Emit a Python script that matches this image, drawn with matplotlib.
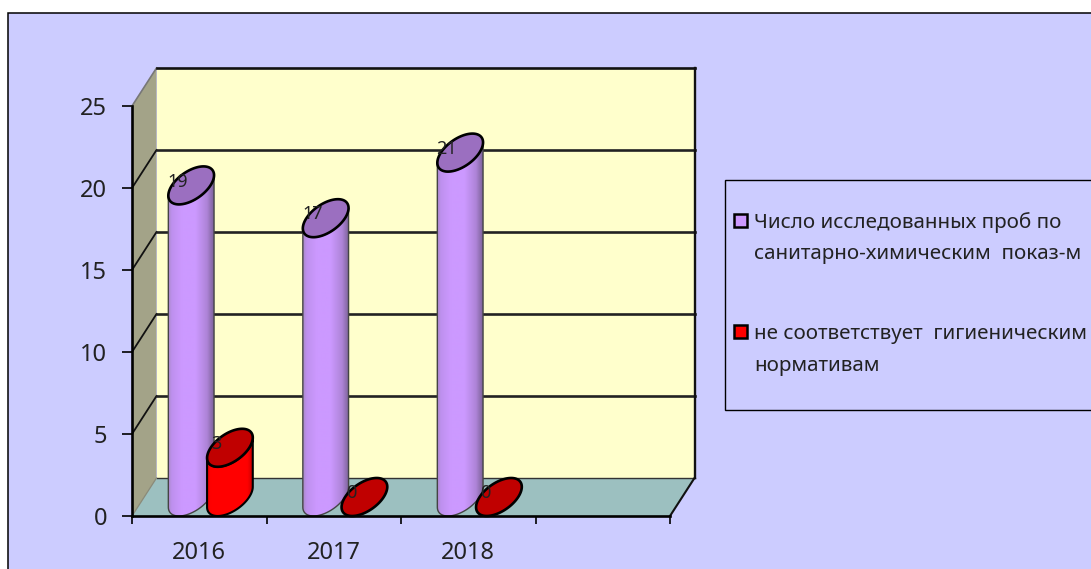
import numpy as np
import matplotlib
matplotlib.use("Agg")
import matplotlib.pyplot as plt
from matplotlib.patches import Polygon, Rectangle, Patch
from matplotlib.legend_handler import HandlerPatch
from matplotlib.colors import to_rgb

categories = ["2016", "2017", "2018"]
samples_total = [19, 17, 21]
samples_failed = [3, 0, 0]
series_names = ["Число исследованных проб по\nсанитарно-химическим  показ-м",
                "не соответствует  гигиеническим\nнормативам"]
y_ticks = [0, 5, 10, 15, 20, 25]

W, H = 1091, 569
plt.rcParams["font.family"] = ["Noto Sans", "DejaVu Sans"]
TXT = "#222222"
fig = plt.figure(figsize=(W / 100, H / 100), dpi=100, facecolor="white")

# panel behind the chart (runs off the right and bottom of the picture)
fig.add_artist(Rectangle((8.0, -40), W + 80, H + 40 - 13.0, transform=None,
                         facecolor="#CCCCFF", edgecolor="black", linewidth=1.1, zorder=-5))

# front plane of the 3-D box
L, R, B, T = 132, 670, 516, 106
ax = fig.add_axes([L / W, 1 - B / H, (R - L) / W, (B - T) / H])
ax.patch.set_visible(False)
ax.set_xlim(0, 4)
ax.set_ylim(0, 25)
for s in ("top", "right"):
    ax.spines[s].set_visible(False)
for s in ("left", "bottom"):
    ax.spines[s].set_linewidth(1.9)
    ax.spines[s].set_zorder(20)

px_x = (R - L) / 4
px_y = (B - T) / 25
DX = 24.5 / px_x   # depth shift in data units
DY = 38 / px_y


def nc(x, y, z=1.0):
    return (x + z * DX, y + z * DY)


# walls and floor
ax.add_patch(Polygon([nc(0, 0, 0), nc(0, 25, 0), nc(0, 25), nc(0, 0)], closed=True,
                     facecolor="#A3A388", edgecolor="none", clip_on=False, zorder=1))
ax.add_patch(Polygon([nc(0, 0), nc(0, 25), nc(4, 25), nc(4, 0)], closed=True,
                     facecolor="#FFFFCC", edgecolor="none", clip_on=False, zorder=1))
ax.add_patch(Polygon([nc(0, 0, 0), nc(4, 0, 0), nc(4, 0), nc(0, 0)], closed=True,
                     facecolor="#9CC0C0", edgecolor="none", clip_on=False, zorder=1))
LW = 1.9
for v in y_ticks:
    p0, p1, p2 = nc(0, v, 0), nc(0, v), nc(4, v)
    if v == 25:
        ax.plot([p0[0], p1[0]], [p0[1], p1[1]], color="#777777", lw=1.2, clip_on=False, zorder=2)
        ax.plot([p1[0], p2[0]], [p1[1], p2[1]], color="#111111", lw=LW, clip_on=False, zorder=2)
    elif v == 0:
        ax.plot([p1[0], p2[0]], [p1[1], p2[1]], color="#333333", lw=1.0, clip_on=False, zorder=2)
        ax.plot([p0[0], p1[0]], [p0[1], p1[1]], color="#8A8A78", lw=0.9, clip_on=False, zorder=2)
    else:
        ax.plot([p0[0], p1[0]], [p0[1], p1[1]], color="#111111", lw=1.3, clip_on=False, zorder=2)
        ax.plot([p1[0], p2[0]], [p1[1], p2[1]], color="#222222", lw=LW, clip_on=False, zorder=2)
p0, p1, p2 = nc(4, 25), nc(4, 0), nc(4, 0, 0)
ax.plot([p0[0], p1[0]], [p0[1], p1[1]], color="#111111", lw=1.7, clip_on=False, zorder=2)
ax.plot([p1[0], p2[0]], [p1[1], p2[1]], color="#111111", lw=1.5, clip_on=False, zorder=2)

# axes
ax.set_yticks(y_ticks)
ax.tick_params(axis="y", length=7.5, width=1.2, pad=10.3, labelsize=17, labelcolor=TXT)
ax.set_xticks([0, 1, 2, 3, 4])
ax.set_xticklabels([])
ax.set_xticks([i + 0.5 for i in range(len(categories))], categories, minor=True)
ax.tick_params(axis="x", which="major", length=6, width=1.2)
ax.tick_params(axis="x", which="minor", length=0, pad=18, labelsize=17, labelcolor=TXT)

# cylinders
a = 19.3 / px_x
bx = DX / 2
by = DY / 2
t0 = np.arctan2(bx, a)


def ell(cx, y, t):
    return np.column_stack((cx + DX / 2 + a * np.cos(t) + bx * np.sin(t), y + DY / 2 + by * np.sin(t)))


def gradient(stops, n=128):
    pos = [s[0] for s in stops]
    rgb = np.array([to_rgb(s[1]) for s in stops])
    xs = np.linspace(0, 1, n)
    return np.column_stack([np.interp(xs, pos, rgb[:, k]) for k in range(3)])[None, :, :]


PURPLE_STOPS = [(0, "#A98AC8"), (0.08, "#BE90EE"), (0.3, "#CC99FF"), (0.6, "#CC99FF"),
                (0.85, "#AE84D8"), (1, "#7D6399")]
RED_STOPS = [(0, "#F00000"), (0.08, "#FF0000"), (0.88, "#FF0000"), (1, "#C80000")]
fill_top = {0: "#9B6FC0", 1: "#C00000"}
offset = {0: -0.151, 1: 0.137}
stops = {0: PURPLE_STOPS, 1: RED_STOPS}
side_lw = {0: 1.0, 1: 1.5}
side_col = {0: "#444444", 1: "black"}


def cylinder(i, series, value, z):
    cx = i + 0.5 + offset[series]
    ts = np.linspace(t0, t0 - np.pi, 60)
    base = ell(cx, 0, ts)
    top = ell(cx, value, ts[::-1])
    if value > 0:
        poly = Polygon(np.vstack((base, top)), closed=True, facecolor="none",
                       edgecolor=side_col[series], lw=side_lw[series], clip_on=False, zorder=z + 0.2)
        ax.add_patch(poly)
        xmin, xmax = base[:, 0].min(), base[:, 0].max()
        im = ax.imshow(gradient(stops[series]), extent=[xmin, xmax, 0, value + DY], aspect="auto",
                       zorder=z, interpolation="bilinear")
        im.set_clip_path(poly)
    tt = np.linspace(0, 2 * np.pi, 120)
    ax.add_patch(Polygon(ell(cx, value, tt), closed=True, facecolor=fill_top[series],
                         edgecolor="black", lw=1.9, clip_on=False, zorder=z + 0.4))
    ctr = (cx + DX / 2, value + DY / 2)
    ax.annotate(str(value), xy=ctr, xytext=(-9.7, 2.7), textcoords="offset points", fontsize=13,
                color=TXT, ha="center", va="center", zorder=z + 0.6, annotation_clip=False)


z = 5
for i in range(len(categories)):
    cylinder(i, 0, samples_total[i], z)
    z += 1
    cylinder(i, 1, samples_failed[i], z)
    z += 1
ax.set_xlim(0, 4)
ax.set_ylim(0, 25)

# legend
fig.add_artist(Rectangle((724.5, H - 409.5), W + 40, 230, transform=None,
                         facecolor="#CCCCFF", edgecolor="black", linewidth=1.0, zorder=-4))


def swatch(legend, orig_handle, xdescent, ydescent, width, height, fontsize):
    return Rectangle((0, 13.8), 13 * 0.72, 13 * 0.72)


handles = [Patch(facecolor="#CC99FF", edgecolor="black", linewidth=1.8),
           Patch(facecolor="#FF0000", edgecolor="black", linewidth=1.8)]
leg = fig.legend(handles, series_names, loc="upper left", bbox_to_anchor=(734 / W, 1 - 212 / H),
                 frameon=False, fontsize=14.85, borderpad=0, borderaxespad=0, handlelength=0.63,
                 handletextpad=0.33, labelspacing=2.9, labelcolor=TXT,
                 handler_map={Patch: HandlerPatch(patch_func=swatch)})
for t in leg.get_texts():
    t.set_linespacing(1.77)

fig.savefig("out.png", dpi=100)
